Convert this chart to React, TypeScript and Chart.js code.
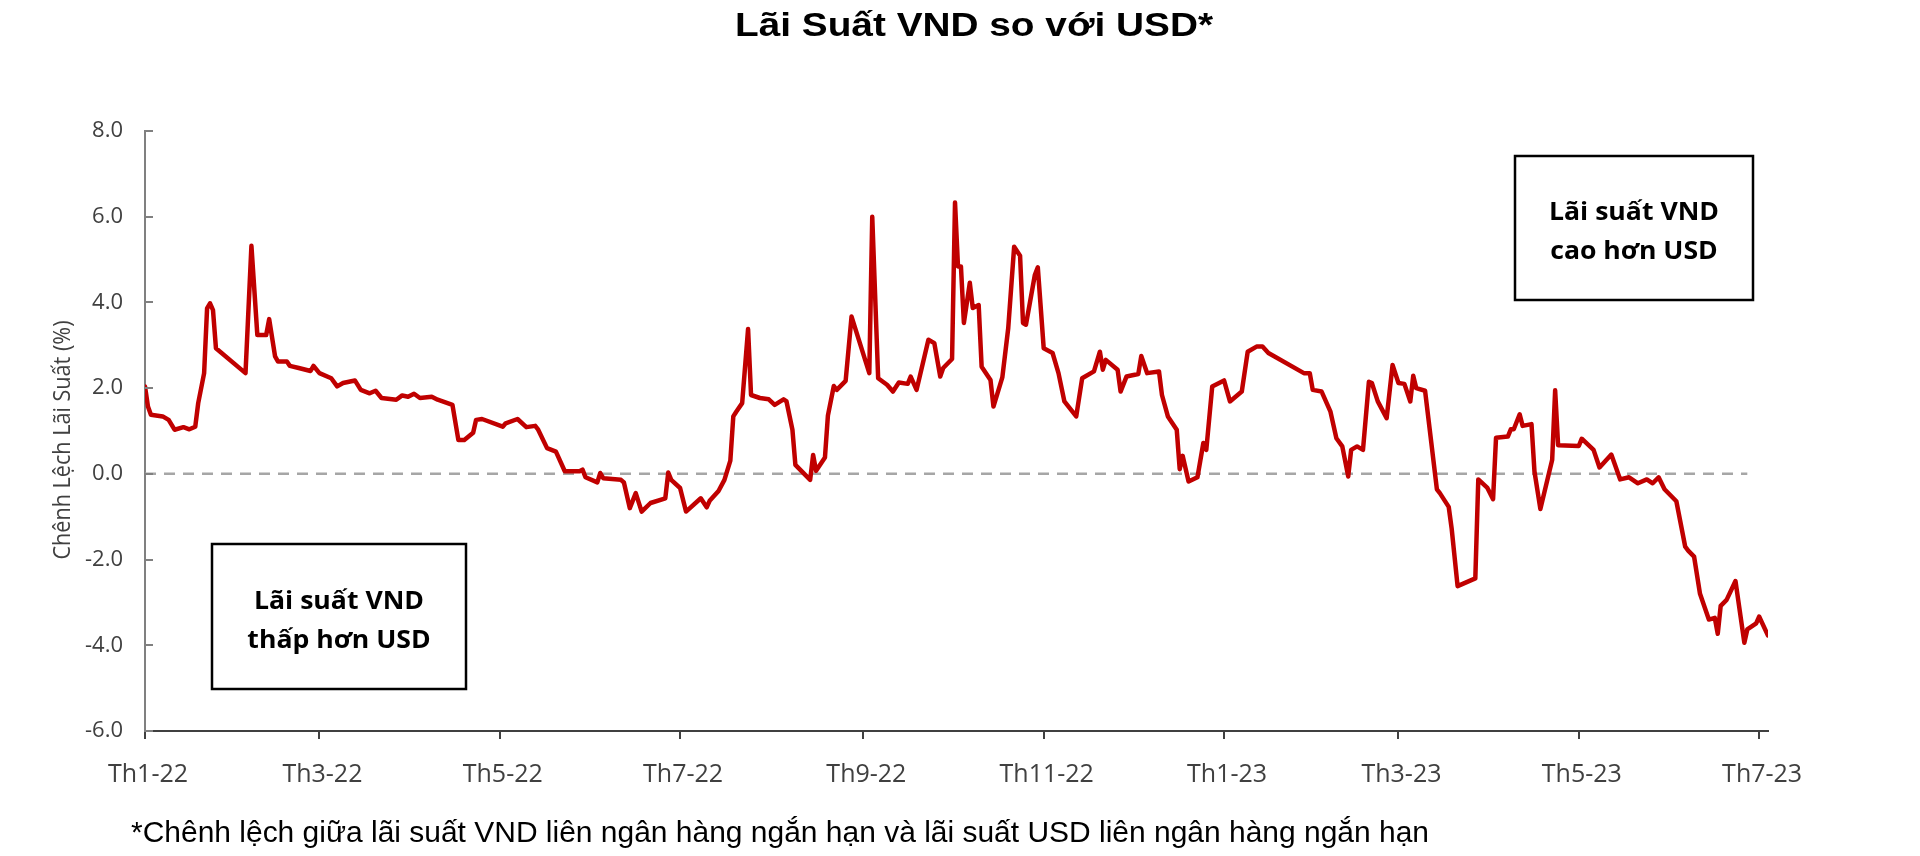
import React, { useEffect, useRef } from "react";
import { Chart, registerables } from "chart.js";

Chart.register(...registerables);

const chartTitle = "Lãi Suất VND so với USD*";
const footnote =
  "*Chênh lệch giữa lãi suất VND liên ngân hàng ngắn hạn và lãi suất USD liên ngân hàng ngắn hạn";
const yAxisTitle = "Chênh Lệch Lãi Suất (%)";
const boxHighLines = ["Lãi suất VND", "cao hơn USD"];
const boxLowLines = ["Lãi suất VND", "thấp hơn USD"];

// x positions are days since 2022-01-01
const tickDays = [0, 59, 120, 181, 243, 304, 365, 424, 485, 546];
const tickLabels = ["Th1-22", "Th3-22", "Th5-22", "Th7-22", "Th9-22", "Th11-22", "Th1-23", "Th3-23", "Th5-23", "Th7-23"];
const yTicks = [-6, -4, -2, 0, 2, 4, 6, 8];

const days = [
  0, 1, 2, 6, 8, 10, 13, 15, 17, 18, 20, 21, 22, 23, 24, 34, 36, 38, 41, 42,
  44, 45, 48, 49, 52, 56, 57, 59, 63, 65, 67, 71, 73, 76, 78, 80, 85, 87, 89, 91,
  93, 97, 99, 104, 106, 108, 111, 112, 114, 121, 122, 126, 129, 132, 133, 136, 139, 142, 147, 148,
  149, 153, 154, 155, 161, 162, 164, 166, 168, 171, 176, 177, 178, 181, 183, 188, 190, 191, 194, 196,
  198, 199, 200, 202, 204, 205, 208, 211, 213, 216, 217, 219, 220, 225, 226, 227, 230, 231, 233, 234,
  237, 239, 245, 246, 248, 251, 253, 255, 258, 259, 261, 265, 267, 269, 270, 273, 274, 275, 276, 277,
  279, 280, 282, 283, 286, 287, 290, 292, 294, 296, 297, 298, 301, 302, 304, 307, 309, 311, 315, 317,
  321, 323, 324, 325, 329, 330, 332, 336, 337, 339, 343, 344, 346, 349, 350, 351, 353, 356, 358, 359,
  361, 365, 367, 371, 373, 376, 378, 380, 392, 394, 395, 398, 401, 403, 405, 407, 408, 410, 412, 414,
  415, 417, 420, 422, 424, 426, 428, 429, 430, 433, 437, 438, 441, 442, 444, 450, 451, 454, 456, 457,
  461, 462, 463, 465, 466, 469, 470, 472, 476, 477, 478, 485, 486, 490, 492, 496, 499, 502, 505, 508,
  510, 512, 514, 518, 521, 522, 524, 526, 529, 531, 532, 533, 535, 538, 541, 542, 545, 546, 549,
];

const spread = [
  2.04, 1.57, 1.38, 1.34, 1.26, 1.03, 1.09, 1.04, 1.1, 1.65, 2.35, 3.86, 3.98, 3.82, 2.93, 2.35, 5.32, 3.24, 3.24, 3.61,
  2.74, 2.62, 2.62, 2.52, 2.47, 2.4, 2.52, 2.35, 2.23, 2.04, 2.12, 2.18, 1.96, 1.88, 1.94, 1.77, 1.73, 1.83, 1.8, 1.87,
  1.77, 1.8, 1.73, 1.61, 0.79, 0.79, 0.96, 1.26, 1.28, 1.1, 1.18, 1.28, 1.09, 1.12, 1.03, 0.6, 0.52, 0.06, 0.06, 0.1,
  -0.08, -0.2, 0.02, -0.1, -0.14, -0.2, -0.8, -0.45, -0.88, -0.68, -0.57, 0.03, -0.14, -0.33, -0.88, -0.57, -0.78, -0.63, -0.4, -0.14,
  0.31, 1.34, 1.45, 1.65, 3.38, 1.84, 1.77, 1.74, 1.61, 1.74, 1.69, 1.03, 0.21, -0.14, 0.44, 0.07, 0.38, 1.36, 2.05, 1.96,
  2.17, 3.67, 2.35, 6.0, 2.23, 2.08, 1.92, 2.13, 2.1, 2.27, 1.96, 3.13, 3.05, 2.27, 2.47, 2.68, 6.33, 4.84, 4.84, 3.52,
  4.46, 3.87, 3.94, 2.5, 2.19, 1.57, 2.25, 3.4, 5.3, 5.09, 3.52, 3.48, 4.64, 4.82, 2.93, 2.82, 2.35, 1.69, 1.34, 2.23,
  2.39, 2.85, 2.43, 2.66, 2.43, 1.92, 2.27, 2.33, 2.75, 2.35, 2.39, 1.84, 1.34, 1.03, 0.11, 0.42, -0.18, -0.08, 0.72, 0.56,
  2.04, 2.18, 1.69, 1.92, 2.85, 2.97, 2.97, 2.82, 2.35, 2.35, 1.96, 1.92, 1.45, 0.83, 0.64, -0.06, 0.56, 0.64, 0.56, 2.15,
  2.12, 1.69, 1.3, 2.54, 2.12, 2.1, 1.69, 2.29, 2.0, 1.94, -0.36, -0.45, -0.77, -1.28, -2.62, -2.44, -0.13, -0.32, -0.59, 0.84,
  0.87, 1.04, 1.04, 1.39, 1.12, 1.16, 0.06, -0.82, 0.33, 1.95, 0.67, 0.65, 0.82, 0.56, 0.15, 0.45, -0.13, -0.08, -0.22, -0.13,
  -0.22, -0.08, -0.36, -0.64, -1.7, -1.79, -1.93, -2.8, -3.4, -3.36, -3.73, -3.08, -2.94, -2.5, -3.94, -3.63, -3.49, -3.33, -3.77,
];

const zeroDays = [0, 542];
const zeroValues = [0, 0];

function fitText(
  ctx: CanvasRenderingContext2D,
  text: string,
  x: number,
  y: number,
  font: string,
  targetWidth: number,
  align: CanvasTextAlign,
  color: string
) {
  ctx.save();
  ctx.font = font;
  const w = ctx.measureText(text).width;
  const sx = targetWidth / w;
  ctx.translate(x, y);
  ctx.scale(sx, 1);
  ctx.textAlign = align;
  ctx.textBaseline = "alphabetic";
  ctx.fillStyle = color;
  ctx.fillText(text, 0, 0);
  ctx.restore();
}

function drawBox(
  ctx: CanvasRenderingContext2D,
  x: number,
  y: number,
  w: number,
  h: number,
  lines: string[],
  scaleX: number
) {
  ctx.save();
  ctx.strokeStyle = "#000000";
  ctx.lineWidth = 2.5;
  ctx.strokeRect(x, y, w, h);
  ctx.font = 'bold 25px "Open Sans", sans-serif';
  ctx.fillStyle = "#000000";
  ctx.textAlign = "center";
  ctx.textBaseline = "alphabetic";
  const cx = x + w / 2;
  const cy = y + h / 2;
  lines.forEach((line, i) => {
    ctx.save();
    ctx.translate(cx, cy - 8 + i * 39);
    ctx.scale(scaleX, 1);
    ctx.fillText(line, 0, 0);
    ctx.restore();
  });
  ctx.restore();
}

const decorPlugin = {
  id: "decor",
  afterDraw(chart: any) {
    const ctx: CanvasRenderingContext2D = chart.ctx;
    const area = chart.chartArea;
    const yScale = chart.scales.y;
    ctx.save();
    // inner tick marks on the value axis
    ctx.strokeStyle = "#808080";
    ctx.lineWidth = 2;
    yScale.ticks.forEach((t: any) => {
      const py = Math.round(yScale.getPixelForValue(t.value));
      ctx.beginPath();
      ctx.moveTo(area.left, py);
      ctx.lineTo(area.left + 8, py);
      ctx.stroke();
    });

    // title
    fitText(ctx, chartTitle, 974, 36, 'bold 34px "Liberation Sans", Arial, sans-serif', 478, "center", "#000000");

    // footnote
    fitText(ctx, footnote, 131, 842, '29px "Liberation Sans", Arial, sans-serif', 1298, "left", "#000000");

    // y-axis title
    ctx.save();
    ctx.translate(70, 440);
    ctx.rotate(-Math.PI / 2);
    fitText(ctx, yAxisTitle, 0, 0, '24px "Open Sans", sans-serif', 239, "center", "#404040");
    ctx.restore();

    // annotation boxes
    ctx.font = 'bold 25px "Open Sans", sans-serif';
    const boxScale = 170 / ctx.measureText("Lãi suất VND").width;
    drawBox(ctx, 212, 544, 254, 145, boxLowLines, boxScale);
    drawBox(ctx, 1515, 156, 238, 144, boxHighLines, boxScale);
    ctx.restore();
  },
};

export default function App() {
  const canvasRef = useRef<HTMLCanvasElement>(null);

  useEffect(() => {
    const canvas = canvasRef.current;
    if (!canvas) return;
    const mainData = days.map((d, i) => ({ x: d, y: spread[i] }));
    const zeroData = zeroDays.map((d, i) => ({ x: d, y: zeroValues[i] }));
    const chart = new Chart(canvas, {
      type: "line",
      data: {
        datasets: [
          {
            label: "Chênh lệch lãi suất",
            data: mainData,
            borderColor: "#C00000",
            backgroundColor: "#C00000",
            borderWidth: 4.5,
            pointRadius: 0,
            tension: 0,
            borderJoinStyle: "round",
            borderCapStyle: "round",
          },
          {
            label: "0",
            data: zeroData,
            borderColor: "#A6A6A6",
            borderWidth: 2.5,
            borderDash: [11, 8],
            pointRadius: 0,
            tension: 0,
          },
        ],
      },
      options: {
        animation: false,
        responsive: false,
        devicePixelRatio: 1,
        events: [],
        layout: { padding: { top: 131, right: 152, bottom: 0, left: 0 } },
        plugins: {
          legend: { display: false },
          tooltip: { enabled: false },
          title: { display: false },
        },
        scales: {
          x: {
            type: "linear",
            min: 0,
            max: 549,
            afterBuildTicks: (scale: any) => {
              scale.ticks = tickDays.map((v) => ({ value: v }));
            },
            afterFit: (scale: any) => {
              scale.height = 125;
            },
            ticks: {
              autoSkip: false,
              maxRotation: 0,
              minRotation: 0,
              padding: 21,
              labelOffset: 3,
              color: "#404040",
              font: { family: '"Open Sans", sans-serif', size: 25 },
              callback: (value: any) => {
                const idx = tickDays.indexOf(Number(value));
                return idx >= 0 ? tickLabels[idx] : "";
              },
            },
            grid: {
              drawOnChartArea: false,
              drawTicks: true,
              tickLength: 8,
              color: "#404040",
              lineWidth: 2,
            },
            border: { color: "#404040", width: 2 },
          },
          y: {
            type: "linear",
            min: -6,
            max: 8,
            afterBuildTicks: (scale: any) => {
              scale.ticks = yTicks.map((v) => ({ value: v }));
            },
            afterFit: (scale: any) => {
              scale.width = 145;
            },
            ticks: {
              padding: 22,
              color: "#404040",
              font: { family: '"Open Sans", sans-serif', size: 22 },
              callback: (value: any) => Number(value).toFixed(1),
            },
            grid: { drawOnChartArea: false, drawTicks: false },
            border: { color: "#808080", width: 2 },
          },
        },
      },
      plugins: [decorPlugin],
    } as any);
    return () => chart.destroy();
  }, []);

  return (
    <div style={{ position: "fixed", left: 0, top: 0, width: 1920, height: 856, background: "#ffffff" }}>
      <canvas ref={canvasRef} width={1920} height={856} style={{ display: "block", width: 1920, height: 856 }} />
    </div>
  );
}
